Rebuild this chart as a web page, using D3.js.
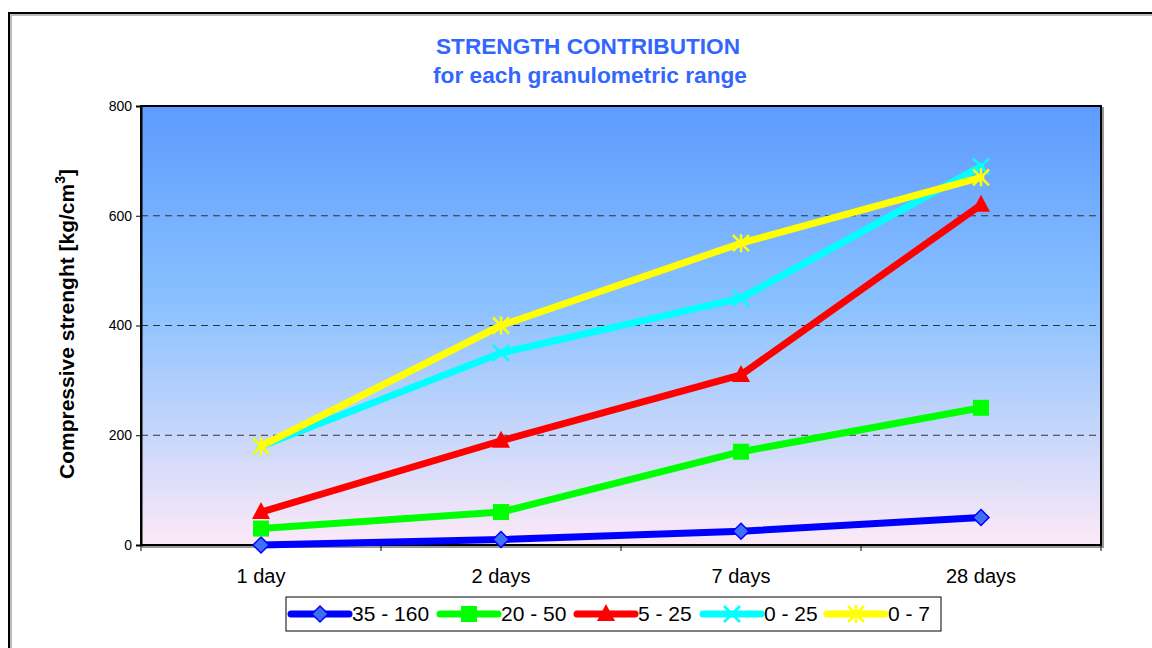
<!DOCTYPE html>
<html>
<head>
<meta charset="utf-8">
<script src="https://cdn.jsdelivr.net/npm/d3@7"></script>
<style>
  body { margin: 0; background: #fff; }
  svg { display: block; font-family: "Liberation Sans", Arial, sans-serif; }
</style>
</head>
<body>
<script>
// chart data
var categories = ["1 day", "2 days", "7 days", "28 days"]
var seriesNames = ["35 - 160", "20 - 50", "5 - 25", "0 - 25", "0 - 7"]
var s35_160 = [0, 10, 25, 50]
var s20_50 = [30, 60, 170, 250]
var s5_25 = [60, 190, 310, 620]
var s0_25 = [180, 350, 450, 690]
var s0_7 = [180, 400, 550, 670]
var yTicks = [0, 200, 400, 600, 800]

var W = 1152, H = 648
var margin = {top: 106, right: 51, bottom: 103, left: 141}
var width = W - margin.left - margin.right,
    height = H - margin.top - margin.bottom

var series = [
  {name: seriesNames[0], values: s35_160, color: "#0000ff", marker: "diamond"},
  {name: seriesNames[1], values: s20_50, color: "#00ff00", marker: "square"},
  {name: seriesNames[2], values: s5_25, color: "#ff0000", marker: "triangle"},
  {name: seriesNames[3], values: s0_25, color: "#00ffff", marker: "x"},
  {name: seriesNames[4], values: s0_7, color: "#ffff00", marker: "star"}
]

var svg = d3.select("body").append("svg")
  .attr("width", W).attr("height", H)

// outer chart frame
svg.append("path").attr("d", "M11," + (H + 5) + " V15 H" + (W + 5))
  .attr("fill", "none").attr("stroke", "#bbb").attr("stroke-width", 2)
svg.append("path").attr("d", "M9," + (H + 5) + " V13 H" + (W + 5))
  .attr("fill", "none").attr("stroke", "#000").attr("stroke-width", 2)

var defs = svg.append("defs")
var grad = defs.append("linearGradient").attr("id", "bg")
  .attr("x1", 0).attr("y1", 0).attr("x2", 0).attr("y2", 1)
grad.append("stop").attr("offset", "0%").attr("stop-color", "#5d9bff")
grad.append("stop").attr("offset", "45%").attr("stop-color", "#89c1ff")
grad.append("stop").attr("offset", "100%").attr("stop-color", "#fde9f7")

// title
svg.append("text").attr("x", 588).attr("y", 54)
  .attr("text-anchor", "middle").attr("fill", "#3366ff")
  .attr("font-size", 22).attr("font-weight", "bold")
  .attr("textLength", 304).attr("lengthAdjust", "spacingAndGlyphs")
  .text("STRENGTH CONTRIBUTION")
svg.append("text").attr("x", 590).attr("y", 83)
  .attr("text-anchor", "middle").attr("fill", "#3366ff")
  .attr("font-size", 22).attr("font-weight", "bold")
  .attr("textLength", 314).attr("lengthAdjust", "spacingAndGlyphs")
  .text("for each granulometric range")

var g = svg.append("g").attr("transform", "translate(" + margin.left + "," + margin.top + ")")

var x = d3.scaleBand().domain(categories).range([0, width])
var y = d3.scaleLinear().domain([0, 800]).range([height, 0])

// plot area shadow + fill
g.append("rect").attr("x", 2).attr("y", 2).attr("width", width).attr("height", height)
  .attr("fill", "none").attr("stroke", "#999").attr("stroke-width", 2)
g.append("rect").attr("width", width).attr("height", height)
  .attr("fill", "url(#bg)").attr("stroke", "#000").attr("stroke-width", 2)

// dashed grid
g.append("g").selectAll("line").data(yTicks.filter(d => d > 0 && d < 800))
  .join("line")
  .attr("x1", 0).attr("x2", width)
  .attr("y1", d => y(d)).attr("y2", d => y(d))
  .attr("stroke", "#333").attr("stroke-width", 1)
  .attr("stroke-dasharray", "7,5")

// y axis
var yAxis = g.append("g").call(d3.axisLeft(y).tickValues(yTicks).tickSize(5).tickPadding(4))
yAxis.select(".domain").attr("stroke", "#000").attr("stroke-width", 2)
yAxis.selectAll("text").attr("font-size", 14).attr("fill", "#000")
  .attr("font-family", "Liberation Sans, Arial, sans-serif")

// x axis: ticks at category boundaries
var xAxis = g.append("g").attr("transform", "translate(0," + height + ")")
xAxis.append("line").attr("x1", 0).attr("x2", width).attr("stroke", "#000").attr("stroke-width", 2)
var bounds = categories.map(c => x(c)).concat([width])
xAxis.selectAll("line.tk").data(bounds).join("line").attr("class", "tk")
  .attr("x1", d => d).attr("x2", d => d).attr("y1", 0).attr("y2", 6)
  .attr("stroke", "#000").attr("stroke-width", 1)
xAxis.selectAll("text").data(categories).join("text")
  .attr("x", d => x(d) + x.bandwidth() / 2).attr("y", 38)
  .attr("text-anchor", "middle").attr("font-size", 20).attr("fill", "#000")
  .text(d => d)

// y title
svg.append("text")
  .attr("transform", "translate(74,324) rotate(-90)")
  .attr("text-anchor", "middle").attr("font-size", 21).attr("font-weight", "bold")
  .html("Compressive strenght [kg/cm<tspan dy='-9' font-size='14'>3</tspan><tspan dy='9'>]</tspan>")

function drawMarker(sel, type, color, s) {
  if (type === "diamond") {
    sel.append("path").attr("d", "M0," + (-s) + " L" + s + ",0 L0," + s + " L" + (-s) + ",0Z")
      .attr("fill", "#3f6ff5").attr("stroke", color).attr("stroke-width", 1.5)
  } else if (type === "square") {
    sel.append("rect").attr("x", -s).attr("y", -s).attr("width", 2 * s).attr("height", 2 * s)
      .attr("fill", color)
  } else if (type === "triangle") {
    sel.append("path").attr("d", "M0," + (-s - 2) + " L" + (s + 1) + "," + (s - 1) + " L" + (-s - 1) + "," + (s - 1) + "Z")
      .attr("fill", color)
  } else if (type === "x") {
    sel.append("path").attr("d", "M" + (-s) + "," + (-s) + " L" + s + "," + s + " M" + s + "," + (-s) + " L" + (-s) + "," + s)
      .attr("stroke", color).attr("stroke-width", 2.5)
  } else if (type === "star") {
    sel.append("path").attr("d", "M" + (-s) + "," + (-s) + " L" + s + "," + s + " M" + s + "," + (-s) + " L" + (-s) + "," + s + " M0," + (-s - 1) + " L0," + (s + 1))
      .attr("stroke", color).attr("stroke-width", 2.5)
  }
}

var line = d3.line()
  .x((d, i) => x(categories[i]) + x.bandwidth() / 2)
  .y(d => y(d))

series.forEach(function(s) {
  g.append("path").datum(s.values)
    .attr("fill", "none").attr("stroke", s.color).attr("stroke-width", 7)
    .attr("stroke-linejoin", "round").attr("stroke-linecap", "round")
    .attr("d", line)
  s.values.forEach(function(v, i) {
    var m = g.append("g").attr("transform", "translate(" + (x(categories[i]) + x.bandwidth() / 2) + "," + y(v) + ")")
    drawMarker(m, s.marker, s.color, 8)
  })
})

// legend
var lg = svg.append("g")
lg.append("rect").attr("x", 286).attr("y", 597).attr("width", 655).attr("height", 34)
  .attr("fill", "#fff").attr("stroke", "#000").attr("stroke-width", 1)
var legX = [291, 440, 577, 703, 827]
series.forEach(function(s, i) {
  var e = lg.append("g").attr("transform", "translate(" + legX[i] + ",614)")
  e.append("line").attr("x1", 0).attr("x2", 58)
    .attr("stroke", s.color).attr("stroke-width", 7).attr("stroke-linecap", "round")
  var m = e.append("g").attr("transform", "translate(29,0)")
  drawMarker(m, s.marker, s.color, 8)
  e.append("text").attr("x", 61).attr("y", 7).attr("font-size", 21).attr("fill", "#000")
    .text(s.name)
})
</script>
</body>
</html>
